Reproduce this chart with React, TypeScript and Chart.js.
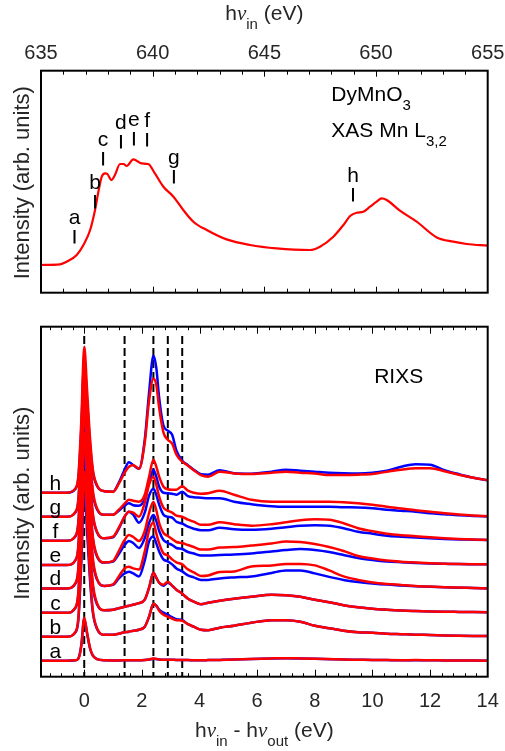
import React, { useEffect, useRef } from "react";
import { Chart, registerables } from "chart.js";

Chart.register(...registerables);

const FONT = '"Liberation Sans", Arial, Helvetica, sans-serif';
const NU_FONT = '"Liberation Serif", "DejaVu Serif", serif';
const AXIS_COLOR = "#262626";

// ---------- XAS (top panel) ----------
const XAS_E = [635.0, 635.85, 636.15, 636.6, 636.9, 637.2, 637.42, 637.57, 637.72, 637.87, 637.97, 638.16, 638.31, 638.54, 638.69, 638.84, 639.13, 639.28, 639.5, 639.8, 640.1, 640.48, 640.93, 641.37, 641.82, 642.42, 643.31, 644.36, 645.55, 647.04, 647.49, 648.09, 648.54, 648.84, 649.13, 649.43, 649.73, 650.03, 650.25, 650.48, 651.07, 651.82, 652.72, 653.46, 654.06, 655.0];
const XAS_I = [27.7, 28.3, 31, 37.7, 47.7, 62.7, 82.7, 101, 116, 119.3, 118.7, 112.7, 117.7, 128.7, 128.7, 126.7, 133.3, 132, 129.3, 128.7, 119.3, 106, 96, 82.7, 71, 62.7, 53.3, 47.7, 44.3, 42.7, 46, 56, 67.7, 76.7, 80, 81, 86, 91, 94.3, 92.7, 82, 71, 55.3, 51, 48.7, 47];
const XAS_TICKS = [635, 640, 645, 650, 655];
const MARK_LABELS = ["a", "b", "c", "d", "e", "f", "g", "h"];
const MARK_E = [636.5, 637.42, 637.78, 638.58, 639.16, 639.75, 640.95, 648.97];
const MARK_TOP = [62.7, 97.7, 140.7, 157.7, 160.7, 159.7, 122.7, 104.7];

// ---------- RIXS (bottom panel) ----------
const RIXS_E = [-1.5, -0.6, -0.3, -0.2, -0.1, 0, 0.1, 0.2, 0.3, 0.45, 0.7, 1.0, 1.2, 1.4, 1.55, 1.7, 1.9, 2.1, 2.25, 2.4, 2.5, 2.6, 2.75, 2.9, 3.05, 3.2, 3.4, 3.6, 3.8, 4.05, 4.3, 4.7, 5.2, 5.8, 6.5, 7.0, 7.5, 8.0, 8.5, 9.0, 9.5, 10.0, 10.5, 11.0, 11.5, 12.0, 12.5, 13.0, 13.5, 14.0];
const RIXS_TICKS = [0, 2, 4, 6, 8, 10, 12, 14];
const DASH_E = [0, 1.4, 2.4, 2.9, 3.4];
const SPEC_LABELS = ["a", "b", "c", "d", "e", "f", "g", "h"];
const OFFSETS = [16, 40, 64, 88.3, 111.7, 136, 160, 184];

const RED_A = [0, 0, 0.4, 2, 15, 43, 28, 13, 5, 1.5, 0.4, 0.3, 0.3, 0.4, 0.5, 0.5, 0.5, 0.7, 1.2, 2.2, 1.8, 1.3, 1.0, 1.0, 0.9, 0.8, 0.8, 0.6, 0.5, 0.5, 0.6, 0.8, 1.2, 1.8, 2.3, 2.5, 2.3, 2.0, 1.6, 1.2, 1.0, 0.8, 0.6, 0.5, 0.6, 0.4, 0.3, 0.2, 0.1, 0];
const BLUE_A = [0, 0, 0.5, 2.5, 16, 42, 27, 12.5, 5, 1.5, 0.4, 0.3, 0.3, 0.4, 0.5, 0.5, 0.5, 0.7, 1.1, 2.0, 1.7, 1.2, 1.0, 1.0, 0.9, 0.8, 0.7, 0.6, 0.5, 0.5, 0.6, 0.8, 1.1, 1.7, 2.2, 2.4, 2.2, 1.9, 1.5, 1.1, 0.9, 0.7, 0.6, 0.5, 0.5, 0.4, 0.3, 0.2, 0.1, 0];
const RED_B = [0, 0, 5, 20, 82, 165, 115, 63, 26, 8, 2, 2, 3, 4.5, 5, 6, 7, 10, 20, 33, 31, 26, 22, 20, 18, 16.5, 16, 12.5, 10, 7, 6.5, 9, 11, 14, 16.5, 16.5, 15, 11, 8.5, 6, 4.5, 4, 3, 2.5, 2, 1.7, 1.3, 1, 0.8, 0.7];
const BLUE_B = [0, 0, 4.5, 18, 75, 150, 105, 57, 24, 7.5, 2, 2, 3, 4.5, 5, 6, 7, 10, 20, 33, 31, 27, 24, 22, 19.5, 17.5, 16.5, 12.5, 10, 7, 6.5, 9, 11, 14, 16.5, 16.5, 15, 11, 8.5, 6, 4.5, 4, 3, 2.5, 2, 1.7, 1.3, 1, 0.8, 0.7];
const RED_C = [0, 0, 5.5, 22, 90, 180, 126, 68, 29, 9, 2.5, 3, 4.5, 6, 7, 8, 9.5, 13, 25, 40, 35, 30, 28, 31, 27, 23, 19, 14, 11, 8.5, 10, 12, 14, 16, 18, 17.5, 16, 13, 10.5, 7.5, 5.5, 4, 3, 2.2, 1.7, 1.3, 1, 0.8, 0.6, 0.4];
const BLUE_C = [0, 0, 5, 20, 82, 165, 115, 63, 26, 8, 2.5, 3, 4.5, 6, 7, 8, 9.5, 13, 25, 40, 35, 30, 27, 30, 27, 23, 19, 14, 11, 8.5, 10, 12, 14, 16, 18, 17.5, 16, 13, 10.5, 7.5, 5.5, 4, 3, 2.2, 1.7, 1.3, 1, 0.8, 0.6, 0.4];
const RED_D = [0, 0, 5.5, 22, 92, 185, 130, 70, 30, 9, 2.5, 4, 12, 20, 21.7, 20, 19, 37, 58, 66, 55, 45, 35, 33, 29, 26, 24, 19, 16, 12.5, 13, 16.5, 17, 22, 23, 24.5, 24.5, 23, 18, 12, 8.5, 6, 4.5, 3.5, 2.5, 1.8, 1.2, 0.8, 0.4, 0];
const BLUE_D = [0, 0, 5, 20, 85, 170, 119, 65, 27, 8.5, 2.5, 3.5, 10, 15, 16.7, 15, 12, 28, 47, 52, 45, 37, 29, 27, 24, 20, 17, 13, 11, 8.5, 8.5, 10, 11, 12, 15.5, 18, 18, 15, 11.5, 8.5, 6.5, 5, 3.8, 3, 2.2, 1.6, 1.1, 0.7, 0.4, 0];
const RED_E = [0, 0, 5, 21, 88, 175, 122, 66, 28, 9, 2.5, 4, 14, 25, 30, 28, 24, 34, 52, 63, 55, 42, 32, 29, 26, 23, 22, 20, 18, 15.5, 15.5, 17.5, 18, 19.5, 21.5, 23.5, 23, 21, 18, 14, 9, 6.5, 4.5, 3.3, 2.5, 1.8, 1.3, 1, 0.8, 0.7];
const BLUE_E = [0, 0, 5, 19, 80, 160, 112, 61, 26, 8, 2.5, 3.5, 11, 20, 24, 22, 17, 27, 42, 50, 44, 34, 25, 22, 20, 17, 16, 13, 11.5, 9.5, 9.5, 10, 10.5, 11.5, 13.5, 15, 16, 15, 13, 10, 7, 5, 3.5, 2.7, 2, 1.5, 1.2, 0.9, 0.8, 0.7];
const RED_F = [0, 0, 5, 20, 85, 170, 119, 65, 27, 8.5, 2.5, 4, 13, 24, 29, 28, 24, 38, 56, 64, 56, 44, 33, 30, 28, 25, 24, 21, 19, 16, 16, 18.5, 16.5, 15, 16.5, 18.5, 20.5, 21.5, 21, 17.5, 12.5, 9.5, 7, 5.5, 4.5, 3.4, 2.5, 1.8, 1.2, 0.7];
const BLUE_F = [0, 0, 4.5, 19, 78, 155, 108, 59, 25, 8, 2.5, 3.5, 12, 24, 29, 26, 18, 28, 45, 52, 46, 36, 26, 24, 23, 19, 17, 14, 12, 10.5, 10.5, 13, 11.5, 11, 12, 13.5, 15, 15.5, 15, 12.5, 9, 7, 5, 4, 3.2, 2.4, 1.8, 1.3, 1, 0.7];
const RED_G = [0, 0, 5, 19, 80, 160, 112, 61, 26, 8, 2, 2, 7, 13, 17, 16, 15, 22, 40, 57, 50, 40, 30, 27.5, 27, 27, 30.5, 26, 24, 23, 23.5, 26, 22, 17, 15, 15, 15, 15, 15, 14.5, 13.5, 12, 10, 8.3, 6.5, 5, 3.5, 2.3, 1.3, 0.5];
const BLUE_G = [0, 0, 4.5, 17, 72, 145, 101, 55, 23, 7, 2, 2, 6, 11, 13.5, 11.5, 11, 18, 34, 47, 40, 30, 24, 23.5, 23, 22, 25, 20.5, 19.5, 19, 18.5, 18.5, 15, 12.5, 10.5, 10, 10, 10, 10, 9.5, 9.3, 8.5, 7, 6, 5, 3.5, 2.5, 1.5, 0.8, 0.3];
const RED_H = [0, 0, 4.5, 17.5, 73, 146, 102, 55, 23, 7, 1.5, 1, 9, 20, 26, 27.5, 24, 50, 92, 114, 108, 85, 60, 53, 49, 38, 31, 27, 22.5, 17.5, 16, 21, 19.3, 18.7, 20, 21, 20, 19.3, 17.7, 17.7, 18, 18.7, 21, 23, 24.5, 24.5, 21.5, 18, 15, 12.5];
const BLUE_H = [0, 0, 4, 15.5, 65, 130, 91, 49, 21, 6.5, 1.5, 1, 10, 23, 30.5, 27.7, 24, 53, 100, 137, 125, 95, 67, 62, 58, 42, 32, 27.5, 23, 18.5, 18, 22.5, 19.5, 19, 21, 23, 22, 21, 20, 19.5, 19.3, 20, 22, 26, 28.5, 28, 22.5, 18.5, 15, 12.5];

const RED_SPECTRA = [RED_A, RED_B, RED_C, RED_D, RED_E, RED_F, RED_G, RED_H];
const BLUE_SPECTRA = [BLUE_A, BLUE_B, BLUE_C, BLUE_D, BLUE_E, BLUE_F, BLUE_G, BLUE_H];

type Part = { t: string; sub?: boolean; nu?: boolean };

function partFont(p: Part, size: number, subSize: number) {
  const s = p.sub ? subSize : size;
  if (p.nu) return `italic ${s}px ${NU_FONT}`;
  return `${s}px ${FONT}`;
}

function drawRich(ctx: CanvasRenderingContext2D, parts: Part[], x: number, y: number, size: number, subSize: number, subDy: number, align: "left" | "center") {
  let total = 0;
  for (const p of parts) {
    ctx.font = partFont(p, size, subSize);
    total += ctx.measureText(p.t).width;
  }
  let cx = align === "center" ? x - total / 2 : x;
  ctx.textAlign = "left";
  ctx.textBaseline = "alphabetic";
  for (const p of parts) {
    ctx.font = partFont(p, size, subSize);
    ctx.fillText(p.t, cx, p.sub ? y + subDy : y);
    cx += ctx.measureText(p.t).width;
  }
}

function vline(ctx: CanvasRenderingContext2D, x: number, y1: number, y2: number) {
  ctx.beginPath();
  ctx.moveTo(x, y1);
  ctx.lineTo(x, y2);
  ctx.stroke();
}

const xasPlugin = {
  id: "xasDecor",
  afterDraw(chart: any) {
    const { ctx, chartArea: a, scales } = chart;
    const x = scales.x, y = scales.y;
    ctx.save();
    ctx.strokeStyle = "#000";
    ctx.lineWidth = 1;
    for (let v = 636; v < 655; v++) {
      const px = Math.round(x.getPixelForValue(v)) + 0.5;
      const len = v % 5 === 0 ? 6 : 4;
      vline(ctx, px, a.bottom, a.bottom - len);
      vline(ctx, px, a.top, a.top + len);
    }
    ctx.lineWidth = 2;
    ctx.strokeRect(a.left, a.top, a.right - a.left, a.bottom - a.top);
    ctx.fillStyle = AXIS_COLOR;
    ctx.font = `20px ${FONT}`;
    ctx.textAlign = "center";
    ctx.textBaseline = "alphabetic";
    for (const t of XAS_TICKS) {
      ctx.fillText(String(t), x.getPixelForValue(t), a.top - 11.5);
    }
    drawRich(ctx, [{ t: "h" }, { t: "ν", nu: true }, { t: "in", sub: true }, { t: " (eV)" }], (a.left + a.right) / 2, 20, 21, 15, 9, "center");
    ctx.save();
    ctx.translate(29, (a.top + a.bottom) / 2 + 1);
    ctx.rotate(-Math.PI / 2);
    ctx.font = `22px ${FONT}`;
    ctx.textAlign = "center";
    ctx.fillText("Intensity (arb. units)", 0, 0);
    ctx.restore();
    ctx.fillStyle = "#000";
    ctx.strokeStyle = "#000";
    ctx.lineWidth = 2;
    ctx.font = `21px ${FONT}`;
    ctx.textAlign = "center";
    for (let i = 0; i < MARK_E.length; i++) {
      const px = x.getPixelForValue(MARK_E[i]);
      const top = y.getPixelForValue(MARK_TOP[i]);
      vline(ctx, px, top, top + 13.5);
      ctx.fillText(MARK_LABELS[i], px, top - 6.5);
    }
    const ax = x.getPixelForValue(648.0);
    drawRich(ctx, [{ t: "DyMnO" }, { t: "3", sub: true }], ax, y.getPixelForValue(191.7), 21, 15, 8.5, "left");
    drawRich(ctx, [{ t: "XAS Mn L" }, { t: "3,2", sub: true }], ax, y.getPixelForValue(155.4), 21, 15, 8.5, "left");
    ctx.restore();
  },
};

const rixsPlugin = {
  id: "rixsDecor",
  beforeDatasetsDraw(chart: any) {
    const { ctx, chartArea: a, scales } = chart;
    const x = scales.x, y = scales.y;
    ctx.save();
    ctx.strokeStyle = "#000";
    ctx.lineWidth = 2;
    ctx.setLineDash([8, 4]);
    for (const e of DASH_E) {
      const px = x.getPixelForValue(e);
      vline(ctx, px, y.getPixelForValue(340.7), a.bottom);
    }
    ctx.restore();
  },
  afterDraw(chart: any) {
    const { ctx, chartArea: a, scales } = chart;
    const x = scales.x, y = scales.y;
    ctx.save();
    ctx.strokeStyle = "#000";
    ctx.lineWidth = 1;
    for (let k = -3; k <= 34; k++) {
      const v = k * 0.4;
      const px = Math.round(x.getPixelForValue(v)) + 0.5;
      const len = k % 5 === 0 ? 7 : 3.5;
      vline(ctx, px, a.bottom, a.bottom - len);
      vline(ctx, px, a.top, a.top + len);
    }
    ctx.lineWidth = 2;
    ctx.strokeRect(a.left, a.top, a.right - a.left, a.bottom - a.top);
    ctx.fillStyle = AXIS_COLOR;
    ctx.font = `20px ${FONT}`;
    ctx.textAlign = "center";
    ctx.textBaseline = "alphabetic";
    for (const t of RIXS_TICKS) {
      ctx.fillText(String(t), x.getPixelForValue(t), a.bottom + 30.6);
    }
    drawRich(
      ctx,
      [{ t: "h" }, { t: "ν", nu: true }, { t: "in", sub: true }, { t: " - h" }, { t: "ν", nu: true }, { t: "out", sub: true }, { t: " (eV)" }],
      (a.left + a.right) / 2,
      a.bottom + 60,
      21,
      15,
      9,
      "center"
    );
    ctx.save();
    ctx.translate(29, (a.top + a.bottom) / 2 + 1.5);
    ctx.rotate(-Math.PI / 2);
    ctx.font = `22px ${FONT}`;
    ctx.textAlign = "center";
    ctx.fillText("Intensity (arb. units)", 0, 0);
    ctx.restore();
    ctx.fillStyle = "#000";
    ctx.font = `21px ${FONT}`;
    ctx.textAlign = "center";
    for (let i = 0; i < SPEC_LABELS.length; i++) {
      ctx.fillText(SPEC_LABELS[i], x.getPixelForValue(-1.0), y.getPixelForValue(OFFSETS[i]) - 3);
    }
    ctx.textAlign = "left";
    ctx.fillText("RIXS", x.getPixelForValue(10.06), y.getPixelForValue(293.4));
    ctx.restore();
  },
};

export default function App() {
  const topRef = useRef<HTMLCanvasElement | null>(null);
  const botRef = useRef<HTMLCanvasElement | null>(null);

  useEffect(() => {
    const top = new Chart(topRef.current as HTMLCanvasElement, {
      type: "line",
      data: {
        datasets: [
          {
            data: XAS_E.map((e, i) => ({ x: e, y: XAS_I[i] })),
            borderColor: "#ff0000",
            borderWidth: 2.2,
            pointRadius: 0,
            cubicInterpolationMode: "monotone",
            fill: false,
          } as any,
        ],
      },
      options: {
        responsive: false,
        animation: false,
        devicePixelRatio: 1,
        events: [],
        layout: { padding: { left: 41, right: 17.3, top: 70.7, bottom: 7.3 } },
        plugins: { legend: { display: false }, tooltip: { enabled: false } },
        scales: {
          x: { type: "linear", display: false, min: 635, max: 655 },
          y: { type: "linear", display: false, min: 0, max: 222 },
        },
      } as any,
      plugins: [xasPlugin],
    });

    const reds = RED_SPECTRA.map((s, k) => ({
      data: RIXS_E.map((e, i) => ({ x: e, y: OFFSETS[k] + s[i] })),
      borderColor: "#ff0000",
      borderWidth: 2.5,
      pointRadius: 0,
      cubicInterpolationMode: "monotone",
      fill: false,
    }));
    const blues = BLUE_SPECTRA.map((s, k) => ({
      data: RIXS_E.map((e, i) => ({ x: e, y: OFFSETS[k] + s[i] })),
      borderColor: "#0000ff",
      borderWidth: 2.5,
      pointRadius: 0,
      cubicInterpolationMode: "monotone",
      fill: false,
    }));

    const bottom = new Chart(botRef.current as HTMLCanvasElement, {
      type: "line",
      data: { datasets: [...reds, ...blues] as any },
      options: {
        responsive: false,
        animation: false,
        devicePixelRatio: 1,
        events: [],
        layout: { padding: { left: 41, right: 17.3, top: 26.7, bottom: 74.3 } },
        plugins: { legend: { display: false }, tooltip: { enabled: false } },
        scales: {
          x: { type: "linear", display: false, min: -1.5, max: 14 },
          y: { type: "linear", display: false, min: 0, max: 350 },
        },
      } as any,
      plugins: [rixsPlugin],
    });

    return () => {
      top.destroy();
      bottom.destroy();
    };
  }, []);

  return (
    <div style={{ position: "absolute", left: 0, top: 0, width: 505, height: 751, background: "#fff" }}>
      <canvas ref={topRef} width={505} height={300} style={{ position: "absolute", left: 0, top: 0, width: 505, height: 300 }} />
      <canvas ref={botRef} width={505} height={451} style={{ position: "absolute", left: 0, top: 300, width: 505, height: 451 }} />
    </div>
  );
}
